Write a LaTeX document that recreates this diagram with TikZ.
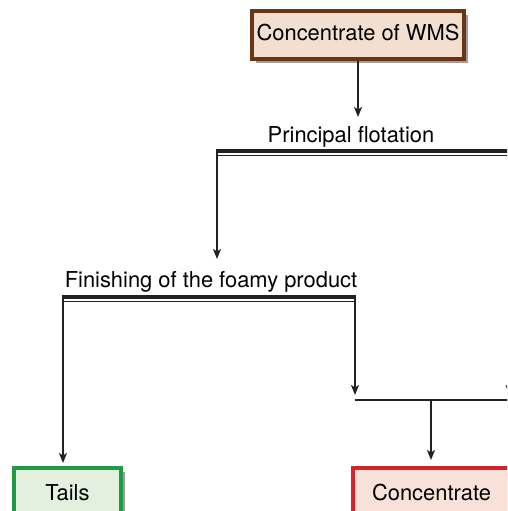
\documentclass[tikz,border=0pt]{standalone}
\usepackage{fontspec}
\setmainfont{TeX Gyre Heros}
\usetikzlibrary{arrows.meta,shadows}
\definecolor{linec}{HTML}{222222}
\definecolor{brownb}{HTML}{6A3516}
\definecolor{brownf}{HTML}{F2DFD0}
\definecolor{greenb}{HTML}{1F9A45}
\definecolor{greenf}{HTML}{E3F0DD}
\definecolor{redb}{HTML}{D3232B}
\definecolor{redf}{HTML}{F8E1D9}
\definecolor{shadowc}{HTML}{9E9E9E}
\tikzset{
  box/.style={draw, line width=3.1pt, inner sep=0pt, text height=16pt, text depth=4pt,
    drop shadow={shadow xshift=4pt, shadow yshift=-4pt, fill=shadowc, opacity=1}},
  lbl/.style={anchor=base, inner sep=0pt},
  conn/.style={draw=linec, line width=1.5pt},
  arr/.style={conn, -{Stealth[length=10pt,width=8pt,inset=2.5pt]}},
  thickline/.style={draw=linec, line width=3.2pt},
  thinline/.style={draw=linec, line width=1.4pt},
}
\begin{document}
\begin{tikzpicture}[x=1pt,y=-1pt, font=\fontsize{21.9}{24}\selectfont]
\useasboundingbox (0,0) rectangle (507,511);
\clip (0,0) rectangle (507,511);
% boxes
\node[box, draw=brownb, fill=brownf, minimum width=212pt, minimum height=48pt] (wms) at (358,35) {Concentrate of WMS};
\node[box, draw=greenb, fill=greenf, minimum width=107pt, minimum height=57pt, text depth=9pt] (tails) at (67.5,496.5) {Tails};
\node[box, draw=redb, fill=redf, minimum width=157pt, minimum height=57pt, text depth=9pt] (conc) at (431.5,496.5) {Concentrate};
% labels
\node[lbl] (pf) at (351,142) {Principal flotation};
\node[lbl] (fin) at (211,287) {Finishing of the foamy product};
% coordinates
\coordinate (pftip) at (358,117);
\coordinate (pfL) at (216,151);
\coordinate (pfR) at (512,151);
\coordinate (pfL2) at (217,155.5);
\coordinate (pfR2) at (512,155.5);
\coordinate (pfdrop) at (217,150);
\coordinate (fintip) at (217,259);
\coordinate (finL) at (62,297);
\coordinate (finR) at (356,297);
\coordinate (finL2) at (63,301.5);
\coordinate (finR2) at (355,301.5);
\coordinate (tailsdrop) at (63,296);
\coordinate (tailstip) at (63,463);
\coordinate (middrop) at (355,296);
\coordinate (midtip) at (355,395);
\coordinate (rtop) at (509.5,300);
\coordinate (rtip) at (509.5,395);
\coordinate (mergeL) at (355,400);
\coordinate (mergeR) at (512,400);
\coordinate (mergeC) at (431,400);
\coordinate (conctip) at (431,460);
% connectors
\draw[arr] (wms.south) -- (pftip);
\draw[thickline] (pfL) -- (pfR);
\draw[thinline] (pfL2) -- (pfR2);
\draw[arr] (pfdrop) -- (fintip);
\draw[thickline] (finL) -- (finR);
\draw[thinline] (finL2) -- (finR2);
\draw[arr] (tailsdrop) -- (tailstip);
\draw[arr] (middrop) -- (midtip);
\draw[arr] (rtop) -- (rtip);
\draw[conn] (mergeL) -- (mergeR);
\draw[arr] (mergeC) -- (conctip);
\end{tikzpicture}
\end{document}
